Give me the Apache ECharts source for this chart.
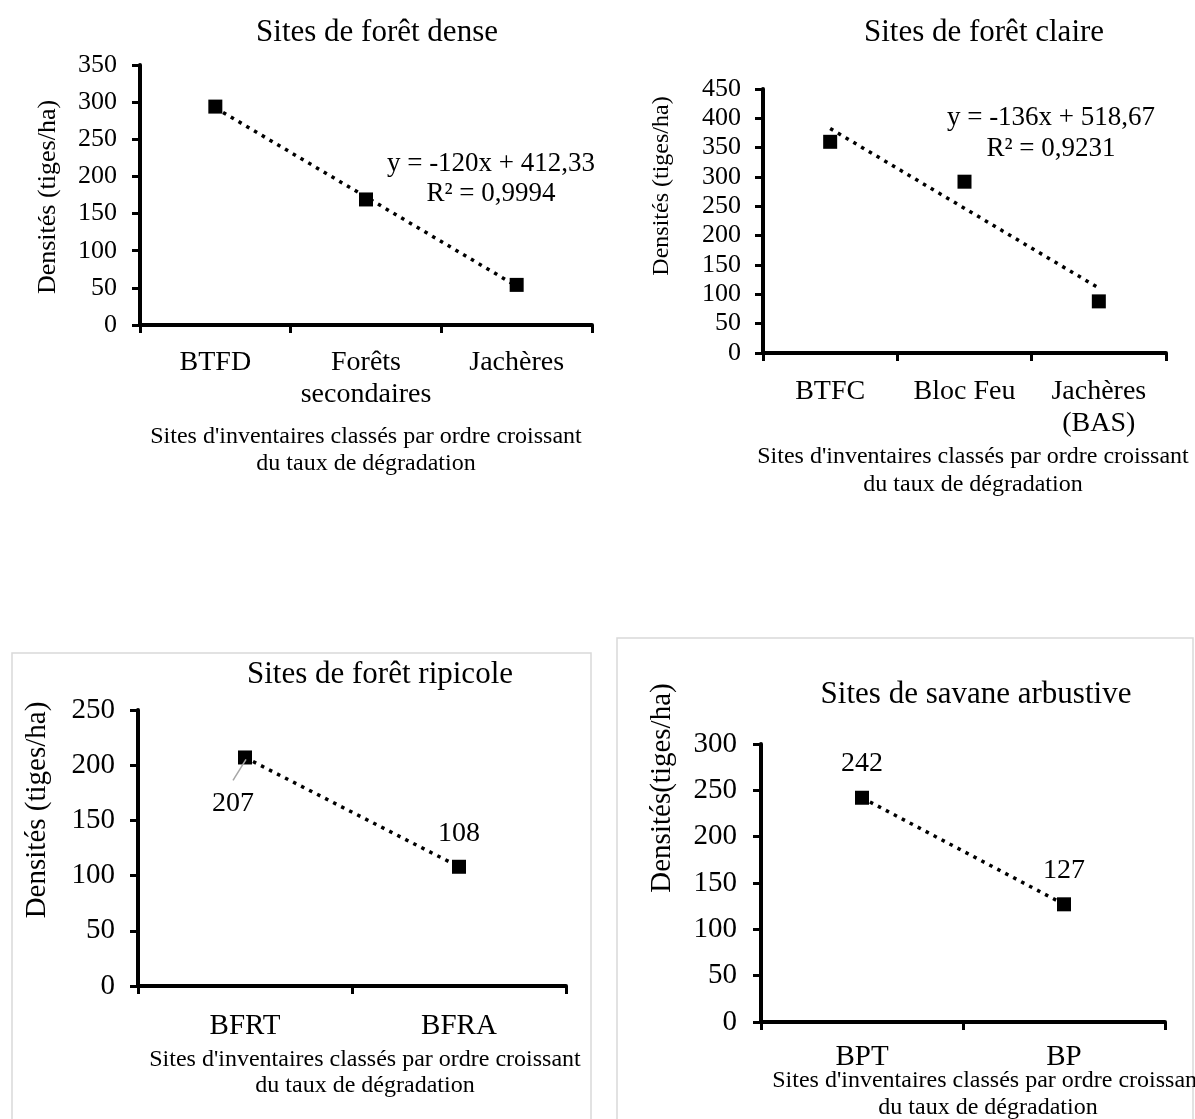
<!DOCTYPE html>
<html>
<head>
<meta charset="utf-8">
<script src="https://cdn.jsdelivr.net/npm/echarts@6/dist/echarts.min.js"></script>
<style>
  html, body { margin: 0; padding: 0; background: #fff; }
  #chart { width: 1195px; height: 1119px; }
</style>
</head>
<body>
<div id="chart"></div>
<script>
// Densités (tiges/ha) par site d'inventaire
const denseCats = ['BTFD', 'Forêts\nsecondaires', 'Jachères'];
const denseVals = [294, 169, 54];
const denseTrend = [-120, 412.33];   // pente, ordonnée à l'origine
const denseR2 = 0.9994;

const claireCats = ['BTFC', 'Bloc Feu', 'Jachères\n(BAS)'];
const claireVals = [360, 292, 88];
const claireTrend = [-136, 518.67];
const claireR2 = 0.9231;

const ripiCats = ['BFRT', 'BFRA'];
const ripiVals = [207, 108];

const savCats = ['BPT', 'BP'];
const savVals = [242, 127];

const yMax = [350, 450, 250, 300];
const yStep = 50;

const titles = ['Sites de forêt dense', 'Sites de forêt claire', 'Sites de forêt ripicole', 'Sites de savane arbustive'];
const yNames = ['Densités (tiges/ha)', 'Densités (tiges/ha)', 'Densités (tiges/ha)', 'Densités(tiges/ha)'];
const xName = "Sites d'inventaires classés par ordre croissant\ndu taux de dégradation";

const FONT = '"Liberation Serif", "Times New Roman", serif';
const fr = (v, d) => v.toFixed(d).replace('.', ',');
const eqText = (t, r2) => 'y = ' + t[0] + 'x + ' + fr(t[1], 2) + '\nR² = ' + fr(r2, 4);
// trend line evaluated at the first and last site (x = 1 .. n)
const trendPts = (t, n) => [[0, t[0] * 1 + t[1]], [n - 1, t[0] * n + t[1]]];

const grids = [
  { left: 140, top: 65, width: 452, height: 260 },
  { left: 763, top: 89, width: 403, height: 264 },
  { left: 138, top: 710, width: 428, height: 276 },
  { left: 761, top: 744, width: 404, height: 278 }
];

function yAxisCfg(i, fontSize, margin) {
  return {
    type: 'value', gridIndex: i, min: 0, max: yMax[i], interval: yStep,
    axisLine: { show: true, lineStyle: { color: '#000', width: 4 } },
    axisTick: { show: true, length: 8, lineStyle: { color: '#000', width: 3 } },
    splitLine: { show: false },
    axisLabel: { color: '#000', fontFamily: FONT, fontSize: fontSize, margin: margin }
  };
}
function xAxisCfg(i, cats, fontSize, margin) {
  return {
    type: 'category', gridIndex: i, data: cats, boundaryGap: true,
    axisLine: { show: true, onZero: false, lineStyle: { color: '#000', width: 4 } },
    axisTick: { show: true, length: 8, interval: 0, lineStyle: { color: '#000', width: 3 } },
    axisLabel: { color: '#000', fontFamily: FONT, fontSize: fontSize, lineHeight: 32, margin: margin, interval: 0 }
  };
}

const dotted = { color: '#000', width: 3.5, type: [3.5, 5.5], cap: 'butt' };
const marker = { symbol: 'rect', symbolSize: 14, itemStyle: { color: '#000', opacity: 1 } };
const lblStyle = { show: true, color: '#000', fontFamily: FONT, fontSize: 28 };

const chart = echarts.init(document.getElementById('chart'), null, { renderer: 'canvas' });

chart.setOption({
  animation: false,
  backgroundColor: '#fff',
  grid: grids,
  xAxis: [xAxisCfg(0, denseCats, 28, 22), xAxisCfg(1, claireCats, 28, 23), xAxisCfg(2, ripiCats, 29, 24), xAxisCfg(3, savCats, 29, 19)],
  yAxis: [yAxisCfg(0, 26, 23), yAxisCfg(1, 26, 22), yAxisCfg(2, 29, 23), yAxisCfg(3, 29, 24)],
  series: [
    { type: 'line', xAxisIndex: 0, yAxisIndex: 0, data: trendPts(denseTrend, denseVals.length),
      showSymbol: false, lineStyle: dotted, z: 2 },
    Object.assign({ type: 'scatter', xAxisIndex: 0, yAxisIndex: 0, data: denseVals, z: 3 }, marker),
    { type: 'line', xAxisIndex: 1, yAxisIndex: 1, data: trendPts(claireTrend, claireVals.length),
      showSymbol: false, lineStyle: dotted, z: 2 },
    Object.assign({ type: 'scatter', xAxisIndex: 1, yAxisIndex: 1, data: claireVals, z: 3 }, marker),
    Object.assign({ type: 'line', xAxisIndex: 2, yAxisIndex: 2, lineStyle: dotted, showSymbol: true, z: 3,
      data: ripiVals.map((v, k) => k === 0
        ? { value: v, label: Object.assign({}, lblStyle, { position: 'bottom', distance: 25, offset: [-12, 0] }) }
        : { value: v, label: Object.assign({}, lblStyle, { position: 'top', distance: 12 }) }) }, marker),
    Object.assign({ type: 'line', xAxisIndex: 3, yAxisIndex: 3, lineStyle: dotted, showSymbol: true, z: 3,
      label: Object.assign({}, lblStyle, { position: 'top', distance: 13 }),
      data: savVals }, marker)
  ]
});

function txt(x, y, text, size, extra) {
  return {
    type: 'text', x: x, y: y, silent: true,
    style: Object.assign({ text: text, font: size + 'px ' + FONT, fill: '#000',
      align: 'center', verticalAlign: 'middle', textAlign: 'center', textVerticalAlign: 'middle',
      lineHeight: Math.round(size * 1.12) }, extra || {})
  };
}
function vtxt(x, y, text, size) {
  const t = txt(x, y, text, size);
  t.rotation = Math.PI / 2;
  return t;
}

// leader line from the "207" label to its marker
const p207 = chart.convertToPixel({ seriesIndex: 4 }, [0, ripiVals[0]]);

chart.setOption({
  graphic: { elements: [
    // panel frames
    { type: 'rect', shape: { x: 12, y: 653, width: 579, height: 500 }, style: { fill: 'none', stroke: '#d9d9d9', lineWidth: 1.5 }, silent: true, z: -1 },
    { type: 'rect', shape: { x: 617, y: 638, width: 576, height: 520 }, style: { fill: 'none', stroke: '#d9d9d9', lineWidth: 1.5 }, silent: true, z: -1 },
    // titles
    txt(377, 33, titles[0], 31),
    txt(984, 33, titles[1], 31),
    txt(380, 675, titles[2], 31),
    txt(976, 695, titles[3], 31),
    // y axis names
    vtxt(48, 197, yNames[0], 26),
    vtxt(662, 186, yNames[1], 24),
    vtxt(37, 810, yNames[2], 29),
    vtxt(662, 788, yNames[3], 29),
    // x axis names
    txt(366, 450, xName, 24, { lineHeight: 27 }),
    txt(973, 471, xName, 24, { lineHeight: 28 }),
    txt(365, 1073, xName, 24, { lineHeight: 26 }),
    txt(988, 1094, xName, 24, { lineHeight: 27 }),
    // trend equations
    txt(491, 179, eqText(denseTrend, denseR2), 27, { lineHeight: 30 }),
    txt(1051, 133, eqText(claireTrend, claireR2), 27, { lineHeight: 31 }),
    { type: 'line', silent: true, shape: { x1: p207[0] - 12, y1: p207[1] + 23, x2: p207[0] + 1, y2: p207[1] + 2 },
      style: { stroke: '#a6a6a6', lineWidth: 1.5 }, z: 10 }
  ] }
});
</script>
</body>
</html>
